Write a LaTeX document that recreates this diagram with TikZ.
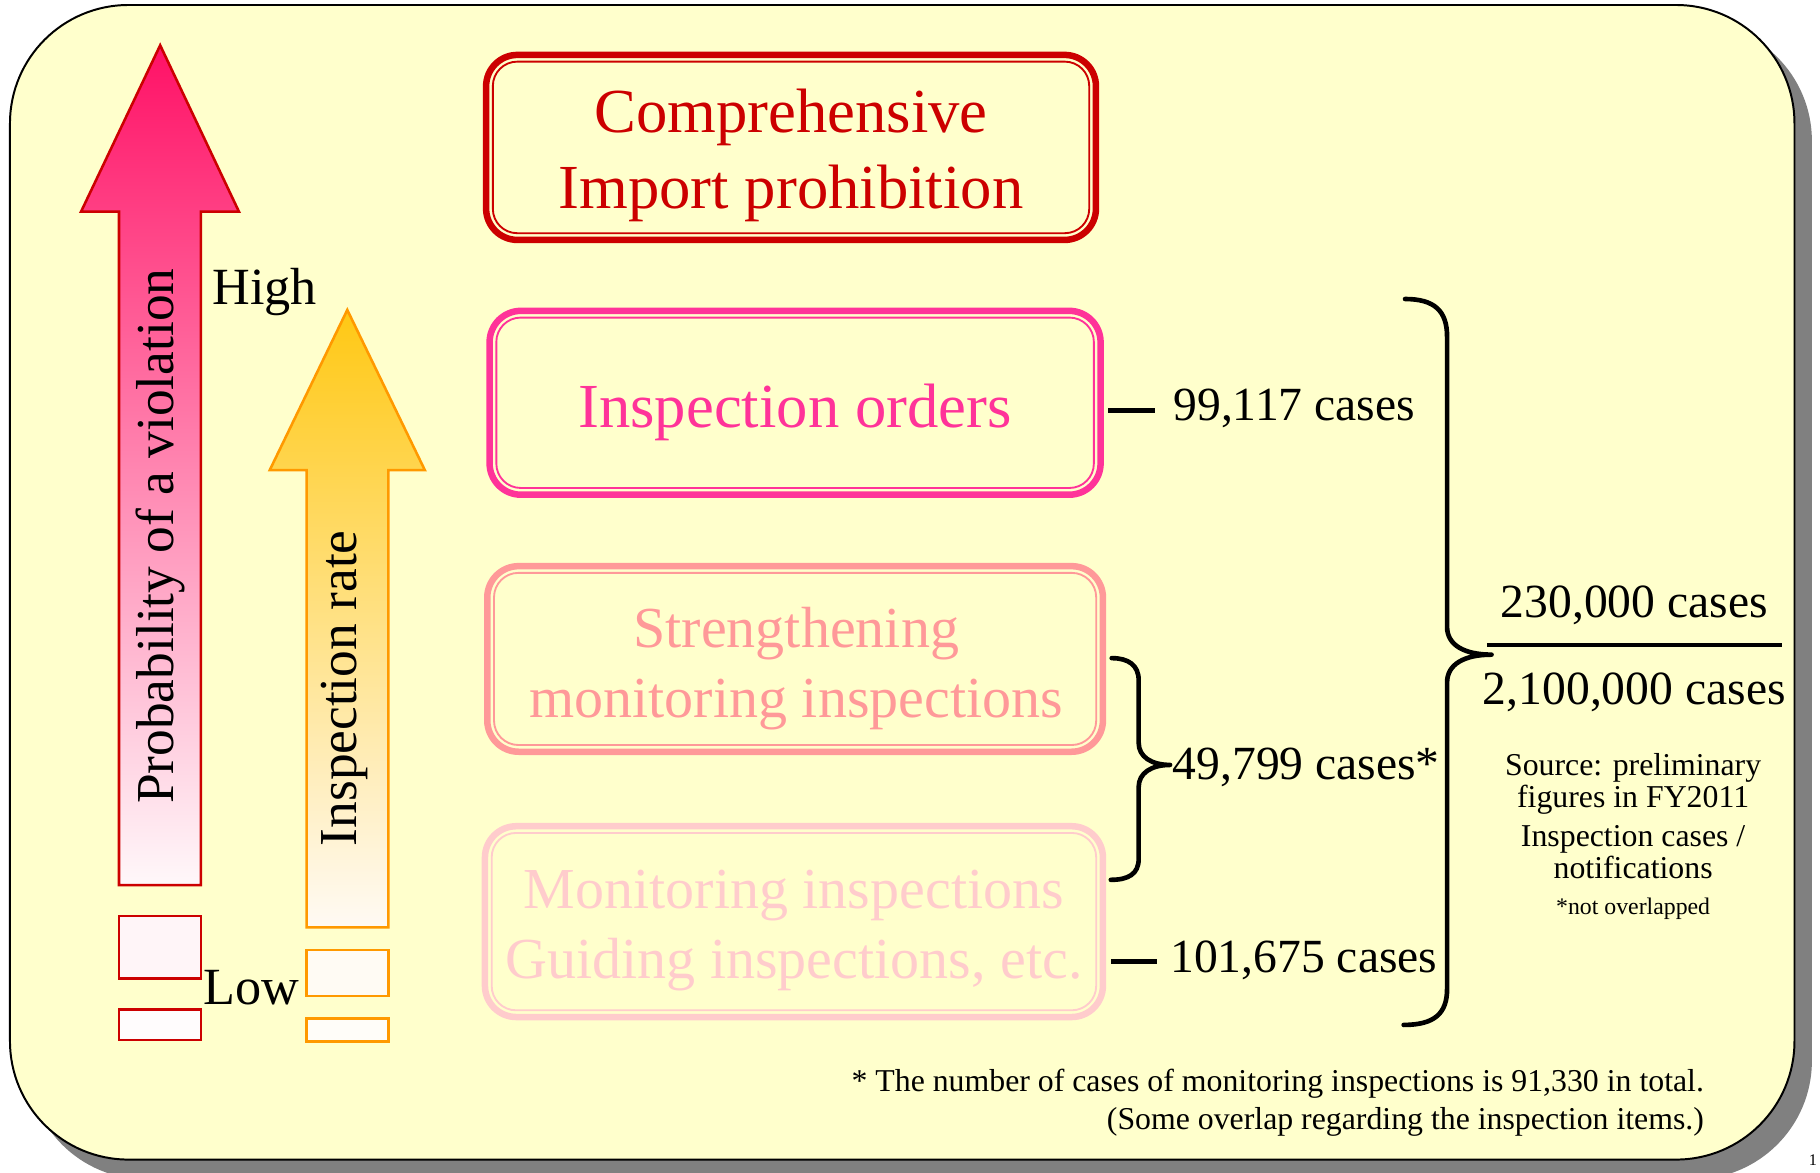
\documentclass[tikz,border=0pt]{standalone}
\usepackage{fontspec}
\setmainfont{Liberation Serif}
\usetikzlibrary{calc}
\definecolor{bgyellow}{HTML}{FFFFCC}
\definecolor{shadowgray}{HTML}{808080}
\definecolor{darkred}{HTML}{CC0000}
\definecolor{hotpink}{HTML}{FF3399}
\definecolor{salmon}{HTML}{FF9999}
\definecolor{palepink}{HTML}{FFCCCC}
\definecolor{arrowtopred}{HTML}{FF1166}
\definecolor{arrowbotred}{HTML}{FFF8FA}
\definecolor{arroworange}{HTML}{FF9900}
\definecolor{arrowtopor}{HTML}{FFC814}
\definecolor{arrowbotor}{HTML}{FFFAF4}
\definecolor{redboxA}{HTML}{FFF5F8}
\definecolor{redboxB}{HTML}{FFFCFD}
\definecolor{orboxA}{HTML}{FFFBF4}
\definecolor{orboxB}{HTML}{FFFDF9}
\begin{document}
\begin{tikzpicture}[x=1pt,y=-1pt,
  every node/.style={inner sep=0pt,outer sep=0pt},
  frameouter/.style={draw=#1,line width=5.6pt,rounded corners=27pt},
  frameinner/.style={draw=#1,line width=1.6pt,rounded corners=21pt},
  boxtext/.style={text=#1,align=center},
  bigtxt/.style={font=\fontsize{54}{66}\selectfont},
  midtxt/.style={font=\fontsize{50}{60.3}\selectfont},
  numtxt/.style={font=\fontsize{41}{48}\selectfont},
  sidetxt/.style={font=\fontsize{45}{50}\selectfont},
  rottxt/.style={font=\fontsize{46}{50}\selectfont,rotate=90},
  smalltxt/.style={font=\fontsize{27.4}{30}\selectfont},
  tinytxt/.style={font=\fontsize{20.5}{24}\selectfont},
  notetxt/.style={font=\fontsize{27.4}{33}\selectfont},
  bracket/.style={draw=black,line width=4pt,line cap=round,line join=round},
  tickline/.style={draw=black,line width=4pt},
  redarrow/.style={draw=darkred,line width=2.2pt,top color=arrowtopred,bottom color=arrowbotred},
  orarrow/.style={draw=arroworange,line width=2.2pt,top color=arrowtopor,bottom color=arrowbotor},
  redbox/.style={draw=darkred,line width=2.2pt,fill=#1},
  orbox/.style={draw=arroworange,line width=2.2pt,fill=#1}
]
\useasboundingbox (0,0) rectangle (1568,1010);
% background panel with shadow
\fill[shadowgray, rounded corners=102pt] (23.6,19.3) rectangle (1561,1016);
\draw[fill=bgyellow, line width=1.7pt, rounded corners=102pt] (8.6,4.3) rectangle (1546,999);

% red arrow
\draw[redarrow] (138,39) -- (205.9,182.4) -- (173,182.4) -- (173,762.5) -- (102.5,762.5) -- (102.5,182.4) -- (69.8,182.4) -- cycle;
\draw[redbox=redboxA] (102.5,789.2) rectangle (173,842.9);
\draw[redbox=redboxB] (102.5,869.6) rectangle (173,896);

% orange arrow
\draw[orarrow] (299.2,267) -- (366,405) -- (334.6,405) -- (334.6,799) -- (264.2,799) -- (264.2,405) -- (232.4,405) -- cycle;
\draw[orbox=orboxA] (264.2,818.5) rectangle (334.6,858);
\draw[orbox=orboxB] (264.2,877.3) rectangle (334.6,897.4);

\node[rottxt] (prob) at (138.5,462) {Probability of a violation};
\node[rottxt] (rate) at (296.5,593) {Inspection rate};
\node[sidetxt, anchor=base west] (high) at (183,262) {High};
\node[sidetxt, anchor=base west] (low) at (175,865) {Low};

% boxes
\node[frameouter=darkred, minimum width=525.4pt, minimum height=159.4pt] (b1) at (681.5,127) {};
\draw[frameinner=darkred] ([xshift=5.8pt,yshift=-5.8pt]b1.north west) rectangle ([xshift=-5.8pt,yshift=5.8pt]b1.south east);
\node[boxtext=darkred, bigtxt] (t1) at (681.5,133.9) {Comprehensive\\Import prohibition};

\node[frameouter=hotpink, minimum width=526.4pt, minimum height=158.4pt] (b2) at (685,347) {};
\draw[frameinner=hotpink] ([xshift=5.8pt,yshift=-5.8pt]b2.north west) rectangle ([xshift=-5.8pt,yshift=5.8pt]b2.south east);
\node[boxtext=hotpink, bigtxt] (t2) at (685,355.1) {Inspection orders};

\node[frameouter=salmon, minimum width=530.4pt, minimum height=159.9pt] (b3) at (685,567.7) {};
\draw[frameinner=salmon] ([xshift=5.8pt,yshift=-5.8pt]b3.north west) rectangle ([xshift=-5.8pt,yshift=5.8pt]b3.south east);
\node[boxtext=salmon, midtxt] (t3) at (686,576) {Strengthening\\monitoring inspections};

\node[frameouter=palepink, minimum width=532.4pt, minimum height=164.4pt] (b4) at (684,794) {};
\draw[frameinner=palepink] ([xshift=5.8pt,yshift=-5.8pt]b4.north west) rectangle ([xshift=-5.8pt,yshift=5.8pt]b4.south east);
\node[boxtext=palepink, midtxt] (t4) at (684,801.5) {Monitoring inspections\\Guiding inspections, etc.};

% counts
\node[numtxt, anchor=base west] (n1) at (1011,362) {99,117 cases};
\node[numtxt, anchor=base west] (n2) at (1010.4,671.5) {49,799 cases*};
\node[numtxt, anchor=base west] (n3) at (1008.3,838) {101,675 cases};
\node[numtxt, anchor=base] (n4) at (1408,532) {230,000 cases};
\node[numtxt, anchor=base] (n5) at (1408,607) {2,100,000 cases};

\draw[tickline] ($(b2.east |- n1.west)+(6.4,2)$) -- ($(n1.west)+(-16,2)$);
\draw[tickline] ($(b4.east |- n3.west)+(7.3,0.8)$) -- ($(n3.west)+(-11.5,0.8)$);

% fraction line
\coordinate (fl) at (1281,556);
\coordinate (fr) at (1535.3,556);
\draw[line width=3.5pt] (fl) -- (fr);

% braces
\coordinate (bt) at (1210.5,257.6);
\coordinate (btip) at (1285,564);
\coordinate (bb) at (1209.3,883);
\draw[bracket] (bt) .. controls (1236,257.6) and (1246.7,268) .. (1246.7,290) -- (1246.7,540) .. controls (1246.7,556) and (1262,564) .. (btip) .. controls (1262,564) and (1246.7,572) .. (1246.7,588) -- (1246.7,852) .. controls (1246.7,873) and (1236,883) .. (bb);

\coordinate (st) at (957.8,567);
\coordinate (stip) at (1008,659);
\coordinate (sb) at (957,758);
\draw[bracket] (st) .. controls (972,567) and (981,573) .. (981,586) -- (981,640) .. controls (981,652) and (992,659) .. (stip) .. controls (992,659) and (981,666) .. (981,678) -- (981,740) .. controls (981,753) and (972,758) .. (sb);

% side notes
\node[smalltxt, anchor=base] (s1) at (1407,668.5) {Source: preliminary};
\node[smalltxt, anchor=base] (s2) at (1407,696) {figures in FY2011};
\node[smalltxt, anchor=base] (s3) at (1407,729) {Inspection cases /};
\node[smalltxt, anchor=base] (s4) at (1407,757) {notifications};
\node[tinytxt, anchor=base] (s5) at (1407,787.5) {*not overlapped};

% footnote
\node[notetxt, anchor=base east] (f1) at (1468,940.5) {* The number of cases of monitoring inspections is 91,330 in total.};
\node[notetxt, anchor=base east] (f2) at (1468,973.5) {(Some overlap regarding the inspection items.)};

\node[font=\fontsize{14}{16}\selectfont, anchor=north] (pg) at (1562,995) {1};
\end{tikzpicture}
\end{document}
